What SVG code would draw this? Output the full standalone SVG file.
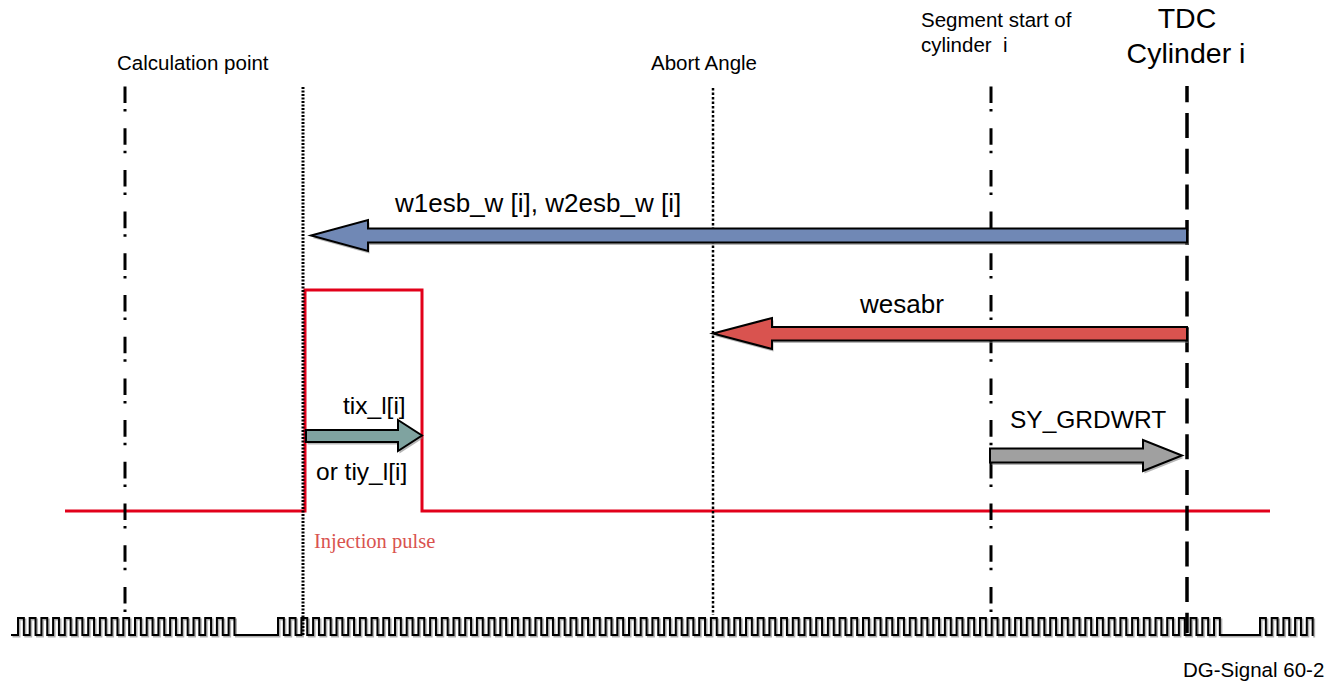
<svg xmlns="http://www.w3.org/2000/svg" width="1342" height="685" viewBox="0 0 1342 685">
<style>
.lbl{font-family:"Liberation Sans",Arial,sans-serif;fill:#000}
.top{font-size:20.5px}
.big{font-size:26px}
.mid{font-size:24.5px}
.tdc{font-size:28.5px}
.arrow{stroke:#000;stroke-width:2;stroke-linejoin:miter}
.shadow{fill:#7a7a7a;opacity:0.55}
.vl{fill:none;stroke:#000}
.dashdot{stroke-width:3;stroke-dasharray:16.6 6 2.5 16.6}
.dotted{stroke-width:3;stroke-dasharray:2 1.5}
.dotted2{stroke-width:2.5;stroke-dasharray:2.5 2}
.tdcline{stroke-width:3.5;stroke-dasharray:25 10.7;stroke-dashoffset:8.7}
.teeth{fill:none;stroke-width:2;stroke-linecap:square;stroke-linejoin:miter}
</style>
<defs>
<path id="teethPath" d="M12,635H18 v-17h5.85v17h5.85v-17h5.85v17h5.85v-17h5.85v17h5.85v-17h5.85v17h5.85v-17h5.85v17h5.85v-17h5.85v17h5.85v-17h5.85v17h5.85v-17h5.85v17h5.85v-17h5.85v17h5.85v-17h5.85v17h5.85 v-17h5.85v17h5.85v-17h5.85v17h5.85v-17h5.85v17h5.85v-17h5.85v17h5.85v-17h5.85v17h5.85v-17h5.85v17h5.85v-17h5.85v17h5.85v-17h5.85v17h5.85v-17h5.85v17h5.85 H278 v-17h5.85v17h5.85v-17h5.85v17h5.85v-17h5.85v17h5.85v-17h5.85v17h5.85v-17h5.85v17h5.85v-17h5.85v17h5.85v-17h5.85v17h5.85v-17h5.85v17h5.85v-17h5.85v17h5.85v-17h5.85v17h5.85 v-17h5.85v17h5.85v-17h5.85v17h5.85v-17h5.85v17h5.85v-17h5.85v17h5.85v-17h5.85v17h5.85v-17h5.85v17h5.85v-17h5.85v17h5.85v-17h5.85v17h5.85v-17h5.85v17h5.85v-17h5.85v17h5.85 v-17h5.85v17h5.85v-17h5.85v17h5.85v-17h5.85v17h5.85v-17h5.85v17h5.85v-17h5.85v17h5.85v-17h5.85v17h5.85v-17h5.85v17h5.85v-17h5.85v17h5.85v-17h5.85v17h5.85v-17h5.85v17h5.85 v-17h5.85v17h5.85v-17h5.85v17h5.85v-17h5.85v17h5.85v-17h5.85v17h5.85v-17h5.85v17h5.85v-17h5.85v17h5.85v-17h5.85v17h5.85v-17h5.85v17h5.85v-17h5.85v17h5.85v-17h5.85v17h5.85 v-17h5.85v17h5.85v-17h5.85v17h5.85v-17h5.85v17h5.85v-17h5.85v17h5.85v-17h5.85v17h5.85v-17h5.85v17h5.85v-17h5.85v17h5.85v-17h5.85v17h5.85v-17h5.85v17h5.85v-17h5.85v17h5.85 v-17h5.85v17h5.85v-17h5.85v17h5.85v-17h5.85v17h5.85v-17h5.85v17h5.85v-17h5.85v17h5.85v-17h5.85v17h5.85v-17h5.85v17h5.85v-17h5.85v17h5.85v-17h5.85v17h5.85v-17h5.85v17h5.85 v-17h5.85v17h5.85v-17h5.85v17h5.85v-17h5.85v17h5.85v-17h5.85v17h5.85v-17h5.85v17h5.85v-17h5.85v17h5.85v-17h5.85v17h5.85v-17h5.85v17h5.85v-17h5.85v17h5.85v-17h5.85v17h5.85 v-17h5.85v17h5.85v-17h5.85v17h5.85v-17h5.85v17h5.85v-17h5.85v17h5.85v-17h5.85v17h5.85v-17h5.85v17h5.85v-17h5.85v17h5.85v-17h5.85v17h5.85v-17h5.85v17h5.85v-17h5.85v17h5.85 v-17h5.85v17h5.85 H1260 v-17h5.85v17h5.85v-17h5.85v17h5.85v-17h5.85v17h5.85v-17h5.85v17h5.85v-17h5.85v17"/>
<polygon id="blueArrow" points="1187,228.5 368,228.5 368,220 311,235.5 368,251 368,242.5 1187,242.5"/>
<polygon id="redArrow" points="1187,327 772,327 772,318 713,333.5 772,349 772,340.5 1187,340.5"/>
<polygon id="tealArrow" points="306,430 398,430 398,420 422,435.5 398,451 398,442 306,442"/>
<polygon id="grayArrow" points="990,448.5 1143,448.5 1143,440 1182,455.5 1143,471 1143,462.5 990,462.5"/>
</defs>

<g id="signal-wheel">
<use href="#teethPath" class="teeth" stroke="#b0b0b0" transform="translate(1.5,1.5)"/>
<use href="#teethPath" class="teeth" stroke="#000"/>
</g>

<g id="injection-pulse">
<path d="M65,511H305V290H422V511H1270" fill="none" stroke="#e2001a" stroke-width="3"/>
<text x="314" y="548" font-family="Liberation Serif,Times New Roman,serif" font-size="20.5" fill="#d9534f">Injection pulse</text>
</g>

<g id="connectors">
<line id="calc-line" class="vl dashdot" x1="125" y1="86.5" x2="125" y2="614"/>
<line id="inj-line" class="vl dotted" x1="303" y1="87" x2="303" y2="636"/>
<line id="abort-line" class="vl dotted2" x1="713" y1="88" x2="713" y2="615"/>
<line id="segment-line" class="vl dashdot" x1="991" y1="86.5" x2="991" y2="620"/>
<line id="tdc-line" class="vl tdcline" x1="1187" y1="86" x2="1187" y2="633"/>
</g>

<g id="arrow-w1esb">
<use href="#blueArrow" class="shadow" transform="translate(1.5,2.5)"/>
<use href="#blueArrow" class="arrow" fill="#7088b5"/>
<text class="lbl big" x="395" y="212">w1esb_w [i], w2esb_w [i]</text>
</g>

<g id="arrow-wesabr">
<use href="#redArrow" class="shadow" transform="translate(1.5,2.5)"/>
<use href="#redArrow" class="arrow" fill="#d9534f"/>
<text class="lbl big" x="860" y="313">wesabr</text>
</g>

<g id="arrow-tix">
<use href="#tealArrow" class="shadow" transform="translate(1.5,2.5)"/>
<use href="#tealArrow" class="arrow" fill="#7fa3a0"/>
<text class="lbl mid" x="343" y="414">tix_l[i]</text>
<text class="lbl mid" x="316" y="480">or tiy_l[i]</text>
</g>

<g id="arrow-sygrdwrt">
<use href="#grayArrow" class="shadow" transform="translate(1.5,2.5)"/>
<use href="#grayArrow" class="arrow" fill="#a0a0a0"/>
<text class="lbl mid" x="1010" y="428">SY_GRDWRT</text>
</g>

<g id="label-calc"><text class="lbl top" x="117" y="70">Calculation point</text></g>
<g id="label-abort"><text class="lbl top" x="651" y="70">Abort Angle</text></g>
<g id="label-segment">
<text class="lbl top" x="921" y="27">Segment start of</text>
<text class="lbl top" x="921" y="52" xml:space="preserve">cylinder  i</text>
</g>
<g id="label-tdc">
<text class="lbl tdc" x="1187" y="28" text-anchor="middle">TDC</text>
<text class="lbl tdc" x="1186" y="63" text-anchor="middle">Cylinder i</text>
</g>
<g id="label-dg"><text class="lbl top" x="1183" y="677">DG-Signal 60-2</text></g>
</svg>
